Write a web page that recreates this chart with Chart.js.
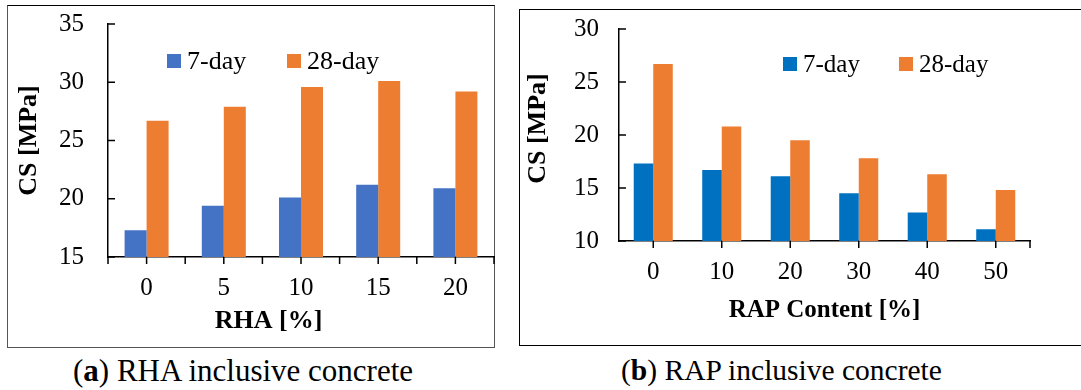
<!DOCTYPE html>
<html lang="en">
<head>
<meta charset="UTF-8">
<title>CS of RHA and RAP concrete</title>
<script src="https://cdn.jsdelivr.net/npm/chart.js"></script>
<style>
    body { margin: 0; width: 1081px; height: 390px; background: #fff; position: relative; overflow: hidden; font-family: "Liberation Serif", "Times New Roman", serif; }
    .frame { position: absolute; box-sizing: border-box; }
    #frameA { left: 7px; top: 5px; width: 488px; height: 343px; border: 1.5px solid #555; border-top-color: #000; }
    #frameB { left: 519px; top: 9px; width: 600px; height: 337px; border: 1.5px solid #000; }
    canvas { position: absolute; }
    #chartA { left: 9px; top: 6px; }
    #chartB { left: 521px; top: 11px; }
    .caption { position: absolute; top: 352px; font-size: 31px; line-height: 37px; color: #000; white-space: nowrap; }
</style>
</head>
<body>

<div class="frame" id="frameA"></div>
<div class="frame" id="frameB"></div>
<canvas id="chartA" width="486" height="341"></canvas>
<canvas id="chartB" width="560" height="333"></canvas>
<div class="caption" style="left:73px">(<b>a</b>) RHA inclusive concrete</div>
<div class="caption" style="left:621px; font-size:29.5px">(<b>b</b>) RAP inclusive concrete</div>

<script>
// data
const seriesNames = ['7-day', '28-day'];
const rhaLabels = ['0', '5', '10', '15', '20'];
const rha7 = [17.3, 19.4, 20.1, 21.2, 20.9];
const rha28 = [26.7, 27.9, 29.6, 30.1, 29.2];
const rapLabels = ['0', '10', '20', '30', '40', '50'];
const rap7 = [17.3, 16.7, 16.1, 14.5, 12.7, 11.1];
const rap28 = [26.7, 20.8, 19.5, 17.8, 16.3, 14.8];

const serif = '"Liberation Serif", "Times New Roman", serif';
Chart.defaults.font.family = serif;
Chart.defaults.color = '#000';

// tick marks: y ticks point into the plot, x ticks hang below the axis
const axisMarks = {
    id: 'axisMarks',
    afterDraw(chart, args, opts) {
        const ctx = chart.ctx;
        const xs = chart.scales.x, ys = chart.scales.y;
        const len = 7;
        ctx.save();
        ctx.strokeStyle = '#000';
        ctx.lineWidth = 1.5;
        ctx.beginPath();
        ys.ticks.forEach(t => {
            const py = ys.getPixelForValue(t.value);
            ctx.moveTo(xs.left, py);
            ctx.lineTo(xs.left + len, py);
        });
        const n = xs.ticks.length;
        const step = (xs.right - xs.left) / n;
        const marks = [];
        for (let i = 0; i < n; i++) marks.push(xs.getPixelForValue(i));
        if (opts.bounds) {
            for (let i = 0; i <= n; i++) marks.push(xs.left + i * step);
        } else {
            marks.push(xs.right);
        }
        marks.forEach(px => {
            ctx.moveTo(px, ys.bottom);
            ctx.lineTo(px, ys.bottom + len);
        });
        ctx.stroke();
        ctx.restore();
    }
};

// legend sits inside the plot area
const innerLegend = {
    id: 'innerLegend',
    afterDatasetsDraw(chart, args, opts) {
        const ctx = chart.ctx;
        const area = chart.chartArea;
        ctx.save();
        ctx.font = opts.size + 'px ' + serif;
        ctx.textBaseline = 'alphabetic';
        chart.data.datasets.forEach((ds, i) => {
            const bx = area.left + opts.x + i * opts.step;
            const cy = area.top + opts.y;
            ctx.fillStyle = ds.backgroundColor;
            ctx.fillRect(bx, cy - 7, 14, 14);
            ctx.fillStyle = '#000';
            ctx.fillText(ds.label, bx + 20, cy + 8);
        });
        ctx.restore();
    }
};

function makeChart(id, labels, d7, d28, blue, cfg) {
    return new Chart(document.getElementById(id), {
        type: 'bar',
        data: {
            labels: labels,
            datasets: [
                { label: seriesNames[0], data: d7, backgroundColor: blue, borderWidth: 0 },
                { label: seriesNames[1], data: d28, backgroundColor: '#ED7D31', borderWidth: 0 }
            ]
        },
        options: {
            responsive: false,
            animation: false,
            categoryPercentage: 0.57,
            barPercentage: 1.0,
            layout: { padding: { top: cfg.padTop, right: cfg.padRight, left: 0, bottom: 0 } },
            plugins: {
                legend: { display: false },
                tooltip: { enabled: false },
                axisMarks: { bounds: cfg.bounds },
                innerLegend: cfg.legend
            },
            scales: {
                x: {
                    grid: { display: false, drawTicks: false },
                    border: { color: '#000', width: 1.5 },
                    ticks: { font: { size: 25 }, padding: 16, maxRotation: 0 },
                    title: { display: true, text: cfg.xTitle, font: { size: cfg.xTitleSize, weight: 'bold' }, padding: { top: 0, bottom: cfg.xTitlePad } },
                    afterFit: s => { s.height = cfg.xHeight; }
                },
                y: {
                    min: cfg.yMin,
                    max: cfg.yMax,
                    // the gap between labels and axis comes from tickLength, so it doesn't pad the top
                    grid: { display: false, drawTicks: true, tickLength: cfg.yTickGap },
                    border: { color: '#000', width: 1.5 },
                    ticks: {
                        stepSize: 2.5,
                        font: { size: 25 },
                        padding: 0,
                        callback: v => (v % 5 === 0 ? String(v) : '')
                    },
                    title: { display: true, text: cfg.yTitle, font: { size: 26, weight: 'bold' }, padding: { top: cfg.yTitlePad, bottom: 0 } },
                    afterFit: s => { s.width = cfg.yWidth; }
                }
            }
        },
        plugins: [axisMarks, innerLegend]
    });
}

makeChart('chartA', rhaLabels, rha7, rha28, '#4472C4', {
    padTop: 18, padRight: 1, yWidth: 99, xHeight: 90,
    yMin: 15, yMax: 35, yTickGap: 24, yTitlePad: 5,
    xTitle: 'RHA [%]\u2002\u2002\u2002\u2002\u2002', xTitleSize: 26, xTitlePad: 10,
    yTitle: 'CS [MPa]', bounds: true,
    legend: { x: 59, y: 37, step: 120, size: 26 }
});

makeChart('chartB', rapLabels, rap7, rap28, '#0070C0', {
    padTop: 18, padRight: 51, yWidth: 98, xHeight: 103,
    yMin: 10, yMax: 30, yTickGap: 20, yTitlePad: 2,
    xTitle: 'RAP Content [%]', xTitleSize: 25, xTitlePad: 18,
    yTitle: '\u2002CS [MPa]', bounds: false,
    legend: { x: 164, y: 35, step: 116, size: 25 }
});
</script>
</body>
</html>
